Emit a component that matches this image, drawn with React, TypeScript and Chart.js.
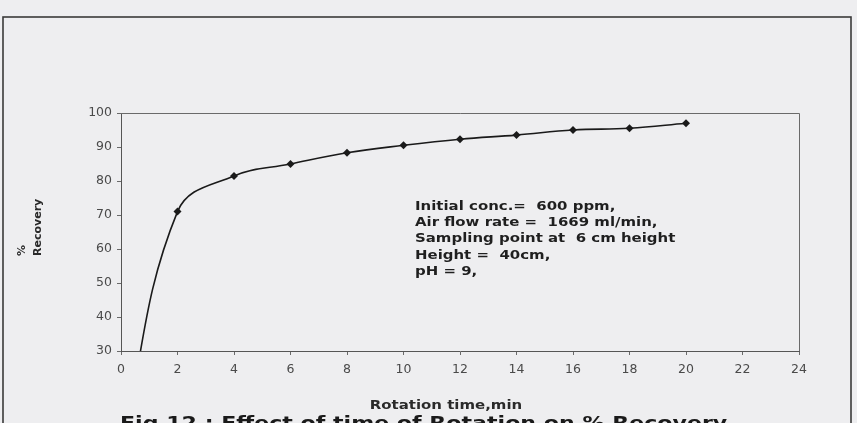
import React, { useEffect, useRef } from 'react';
import { Chart, registerables } from 'chart.js';

Chart.register(...registerables);

// ---- data ----
const timeMin: number[] = [0, 2, 4, 6, 8, 10, 12, 14, 16, 18, 20];
const recoveryPct: number[] = [0, 71, 81.5, 85, 88.3, 90.5, 92.3, 93.5, 95, 95.5, 97];
const xTickMin = 0;
const xTickMax = 24;
const xTickStep = 2;
const yTickMin = 30;
const yTickMax = 100;
const yTickStep = 10;

const noteLines: string[] = [
  'Initial conc.=  600 ppm,',
  'Air flow rate =  1669 ml/min,',
  'Sampling point at  6 cm height',
  'Height =  40cm,',
  'pH = 9,',
];
const xTitle = 'Rotation time,min';
const yTitleLines: string[] = ['%', 'Recovery'];
const caption = 'Fig 12 : Effect of time of Rotation on % Recovery';

const W = 857;
const H = 423;
const STRETCH = 1.3;

function stretchedText(ctx: any, text: string, x: number, y: number, align: 'left' | 'center') {
  ctx.save();
  ctx.translate(x, y);
  ctx.scale(STRETCH, 1);
  ctx.textAlign = align;
  ctx.fillText(text, 0, 0);
  ctx.restore();
}

const decorPlugin = {
  id: 'decor',
  beforeDraw(chart: any) {
    const ctx = chart.ctx;
    ctx.save();
    ctx.fillStyle = '#eeeef0';
    ctx.fillRect(0, 0, W, H);
    // page frame
    ctx.strokeStyle = '#3a3a3a';
    ctx.lineWidth = 1.6;
    ctx.strokeRect(3, 17, 848, 600);
    ctx.restore();
  },
  afterDatasetsDraw(chart: any) {
    const ctx = chart.ctx;
    const a = chart.chartArea;
    ctx.save();
    // plot border (top / right)
    ctx.strokeStyle = '#6a6a6a';
    ctx.lineWidth = 1;
    ctx.beginPath();
    ctx.moveTo(a.left, a.top + 0.5);
    ctx.lineTo(a.right + 0.5, a.top + 0.5);
    ctx.lineTo(a.right + 0.5, a.bottom);
    ctx.stroke();

    // annotation block
    ctx.fillStyle = '#1f1f1f';
    ctx.font = 'bold 11.5px "DejaVu Sans"';
    ctx.textBaseline = 'middle';
    noteLines.forEach((t, i) => {
      stretchedText(ctx, t, 415, 207 + i * 16.2, 'left');
    });

    // x title
    ctx.fillStyle = '#2a2a2a';
    ctx.font = 'bold 11.5px "DejaVu Sans"';
    stretchedText(ctx, xTitle, 446, 406, 'center');

    // y title (rotated, left aligned from bottom)
    ctx.save();
    ctx.rotate(-Math.PI / 2);
    ctx.textAlign = 'left';
    ctx.font = 'bold 11px "DejaVu Sans"';
    ctx.fillText(yTitleLines[0], -256, 22);
    ctx.fillText(yTitleLines[1], -256, 38);
    ctx.restore();

    // caption (cut off at the bottom edge)
    ctx.fillStyle = '#1a1a1a';
    ctx.font = 'bold 17px "DejaVu Sans"';
    ctx.textBaseline = 'alphabetic';
    stretchedText(ctx, caption, 120, 429, 'left');
    ctx.restore();
  },
};

export default function App() {
  const ref = useRef<HTMLCanvasElement | null>(null);

  useEffect(() => {
    if (!ref.current) return;
    const points = timeMin.map((x, i) => ({ x, y: recoveryPct[i] }));
    const chart = new Chart(ref.current, {
      type: 'line',
      data: {
        datasets: [
          {
            data: points,
            borderColor: '#1a1a1a',
            borderWidth: 1.6,
            backgroundColor: '#1a1a1a',
            pointStyle: 'rectRot',
            pointRadius: 4,
            pointBorderWidth: 0,
            tension: 0.4,
            fill: false,
          },
        ],
      },
      options: {
        responsive: false,
        animation: false,
        events: [],
        layout: { padding: { top: 113, right: 58, left: 0, bottom: 0 } },
        plugins: {
          legend: { display: false },
          tooltip: { enabled: false },
          title: { display: false },
        },
        scales: {
          x: {
            type: 'linear',
            min: xTickMin,
            max: xTickMax,
            afterFit: (s: any) => {
              s.height = 72;
            },
            ticks: {
              stepSize: xTickStep,
              padding: 7,
              color: '#4a4a4a',
              font: { family: 'DejaVu Sans', size: 12.5 },
              maxRotation: 0,
            },
            grid: { drawOnChartArea: false, tickLength: 4, color: '#6a6a6a' },
            border: { color: '#555', width: 1 },
          },
          y: {
            min: yTickMin,
            max: yTickMax,
            afterFit: (s: any) => {
              s.width = 121;
            },
            ticks: {
              stepSize: yTickStep,
              padding: 5,
              color: '#4a4a4a',
              font: { family: 'DejaVu Sans', size: 12.5 },
            },
            grid: { drawOnChartArea: false, tickLength: 4, color: '#6a6a6a' },
            border: { color: '#555', width: 1 },
          },
        },
      },
      plugins: [decorPlugin],
    });
    return () => chart.destroy();
  }, []);

  return (
    <div style={{ position: 'absolute', left: 0, top: 0, width: W, height: H }}>
      <canvas ref={ref} width={W} height={H} style={{ width: W, height: H, display: 'block' }} />
    </div>
  );
}
